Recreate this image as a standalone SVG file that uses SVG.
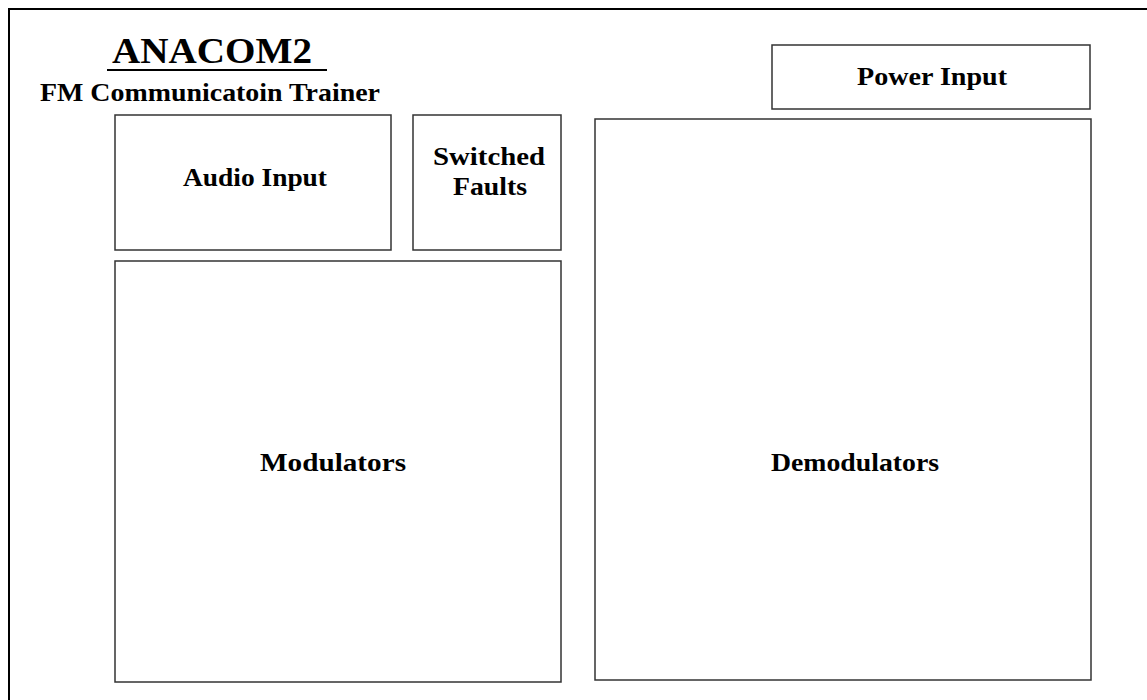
<svg xmlns="http://www.w3.org/2000/svg" width="1147" height="700" viewBox="0 0 1147 700">
<style>
.box{fill:#fff;stroke:#333;stroke-width:1.5}
.lbl{font-family:"Liberation Serif",serif;font-weight:bold;font-size:26px;fill:#000;text-anchor:middle}
</style>
<rect x="0" y="0" width="1147" height="700" fill="#fff"/>
<path d="M9,710 V9 H1160" fill="none" stroke="#000" stroke-width="2"/>
<g id="title">
<text x="212" y="63" class="lbl" style="font-size:35px" textLength="200" lengthAdjust="spacingAndGlyphs">ANACOM2</text>
<line x1="107" y1="70" x2="327" y2="70" stroke="#000" stroke-width="2"/>
<text x="210" y="101" class="lbl" textLength="340" lengthAdjust="spacingAndGlyphs">FM Communicatoin Trainer</text>
</g>
<g id="audio">
<rect class="box" x="115" y="115" width="276" height="135"/>
<text class="lbl" x="255" y="186" textLength="144" lengthAdjust="spacingAndGlyphs">Audio Input</text>
</g>
<g id="faults">
<rect class="box" x="413" y="115" width="148" height="135"/>
<text class="lbl" x="489" y="165" textLength="112" lengthAdjust="spacingAndGlyphs">Switched</text>
<text class="lbl" x="490" y="195" textLength="74" lengthAdjust="spacingAndGlyphs">Faults</text>
</g>
<g id="modulators">
<rect class="box" x="115" y="261" width="446" height="421"/>
<text class="lbl" x="333" y="471" textLength="146" lengthAdjust="spacingAndGlyphs">Modulators</text>
</g>
<g id="power">
<rect class="box" x="772" y="45" width="318" height="64"/>
<text class="lbl" x="932" y="85" textLength="150" lengthAdjust="spacingAndGlyphs">Power Input</text>
</g>
<g id="demodulators">
<rect class="box" x="595" y="119" width="496" height="561"/>
<text class="lbl" x="855" y="471" textLength="168" lengthAdjust="spacingAndGlyphs">Demodulators</text>
</g>
<g id="connectors"></g>
</svg>
